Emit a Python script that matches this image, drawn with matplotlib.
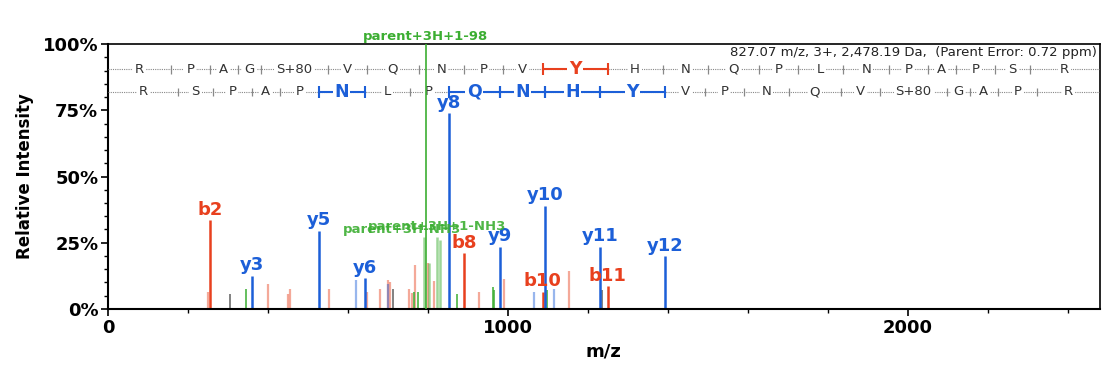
import numpy as np
import matplotlib
matplotlib.use("Agg")
import matplotlib.pyplot as plt
from matplotlib.ticker import MultipleLocator, FuncFormatter

BLUE = "#1c5fd8"
RED = "#e8401e"
GREEN = "#3cae32"
GRAY = "#555555"

# labelled fragment peaks (m/z, relative intensity %)
b_labels = ["b2", "b8", "b10", "b11"]
b_mz = [254.2, 890.4, 1086.5, 1249.6]
b_int = [33.5, 21.0, 6.5, 8.5]

y_labels = ["y3", "y5", "y6", "y8", "y9", "y10", "y11", "y12"]
y_mz = [359.2, 527.3, 641.3, 851.5, 979.5, 1093.6, 1230.6, 1393.7]
y_int = [12.5, 29.5, 11.7, 74.0, 23.5, 39.0, 23.5, 20.0]

parent_mz = 794.7
parent_int = 100.0

# unlabelled peaks
lred_mz = [251, 400, 450, 455, 552, 648, 680, 700, 705, 752, 760, 768, 800, 815, 928, 990, 1152]
lred_int = [6.4, 9.5, 5.7, 7.6, 7.6, 6.4, 7.6, 11.0, 10.0, 7.6, 6.0, 16.6, 17.5, 10.6, 6.4, 11.4, 14.4]
lblue_mz = [620, 700, 1065, 1115]
lblue_int = [11.0, 9.5, 6.4, 7.6]
gray_mz = [305, 713, 1236]
gray_int = [5.7, 7.6, 7.0]
green_mz = [345, 765, 775, 873, 962, 964, 1097]
green_int = [7.6, 6.4, 6.4, 5.7, 8.3, 7.0, 7.0]
lgreen_mz = [790, 803, 822, 830]
lgreen_int = [27.0, 17.5, 27.0, 26.0]

# sequence ladders
seq_top = ["R", "P", "A", "G", "S+80", "V", "Q", "N", "P", "V", "Y", "H",
           "N", "Q", "P", "L", "N", "P", "A", "P", "S", "R"]
b_ladder = [157.11, 254.16, 325.20, 382.22, 549.22, 648.29, 776.35, 890.39,
            987.44, 1086.51, 1249.58, 1386.64, 1500.68, 1628.74, 1725.79,
            1838.88, 1952.92, 2049.97, 2121.01, 2218.06, 2305.09]
seq_bot = ["R", "S", "P", "A", "P", "N", "L", "P", "Q", "N", "H", "Y", "V",
           "P", "N", "Q", "V", "S+80", "G", "A", "P", "R"]
y_ladder = [175.12, 262.15, 359.20, 430.24, 527.29, 641.34, 754.42, 851.47,
            979.53, 1093.57, 1230.63, 1393.70, 1492.77, 1589.82, 1703.86,
            1831.92, 1930.99, 2097.99, 2155.01, 2226.05, 2323.10]
top_hits = [10]
bot_hits = [5, 8, 9, 10, 11]
mh = 2479.2

fig = plt.figure(figsize=(11.03, 3.74), dpi=100)
ax = fig.add_axes([0.098, 0.174, 0.899, 0.708])
ax.set_xlim(0, 2480)
ax.set_ylim(0, 100)

# faint peaks first
ax.vlines(lred_mz, 0, lred_int, color=RED, alpha=0.45, lw=1.6)
ax.vlines(lblue_mz, 0, lblue_int, color=BLUE, alpha=0.45, lw=1.6)
ax.vlines(lgreen_mz, 0, lgreen_int, color=GREEN, alpha=0.5, lw=1.8)
ax.vlines(gray_mz, 0, gray_int, color=GRAY, alpha=0.8, lw=1.3)
ax.vlines(green_mz, 0, green_int, color=GREEN, alpha=0.85, lw=1.3)

ax.vlines(b_mz, 0, b_int, color=RED, lw=1.8)
ax.vlines(y_mz, 0, y_int, color=BLUE, lw=1.8)

for lab, x, h in zip(b_labels, b_mz, b_int):
    ax.annotate(lab, (x, h), xytext=(0, 1), textcoords="offset points",
                ha="center", va="bottom", color=RED, fontsize=13, fontweight="bold")
for lab, x, h in zip(y_labels, y_mz, y_int):
    ax.annotate(lab, (x, h), xytext=(0, 1), textcoords="offset points",
                ha="center", va="bottom", color=BLUE, fontsize=13, fontweight="bold")

ax.text(parent_mz, 100.5, "parent+3H+1-98", ha="center", va="bottom",
        color=GREEN, fontsize=9.5, fontweight="bold", clip_on=False)
ax.text(735, 27.5, "parent+3H-NH3", ha="center", va="bottom",
        color=GREEN, fontsize=9.5, fontweight="bold", alpha=0.9)
ax.text(822, 28.8, "parent+3H+1-NH3", ha="center", va="bottom",
        color=GREEN, fontsize=9.5, fontweight="bold", alpha=0.9)

ax.text(2472, 97, "827.07 m/z, 3+, 2,478.19 Da,  (Parent Error: 0.72 ppm)",
        ha="right", va="center", fontsize=9.5, color="#222222")


def draw_ladder(ypos, residues, ladder, hits, color):
    ax.plot([0, 2480], [ypos, ypos], color="#888888", lw=0.8, ls=(0, (1, 1)), zorder=3)
    edges = [0] + ladder + [mh]
    for i, res in enumerate(residues):
        lo, hi = edges[i], edges[i + 1]
        mid = (lo + hi) / 2
        if i in hits:
            ax.plot([lo, hi], [ypos, ypos], color=color, lw=1.5, zorder=4)
            ax.vlines([lo, hi], ypos - 2.3, ypos + 2.3, color=color, lw=1.5, zorder=4)
            ax.text(mid, ypos, res, ha="center", va="center", color=color,
                    fontsize=12.5, fontweight="bold", zorder=6,
                    bbox=dict(boxstyle="square,pad=0.08", fc="white", ec="none"))
        else:
            ax.text(mid, ypos, res, ha="center", va="center", color="#333333",
                    fontsize=9.5, zorder=5,
                    bbox=dict(boxstyle="square,pad=0.15", fc="white", ec="none"))
    plain = [x for j, x in enumerate(ladder)
             if j not in hits and j + 1 not in hits]
    ax.vlines(plain, ypos - 1.6, ypos + 1.6, color="#888888", lw=0.9, zorder=4)


draw_ladder(90.5, seq_top, b_ladder, top_hits, RED)
draw_ladder(82.0, seq_bot, y_ladder, bot_hits, BLUE)

# the parent peak runs over the sequence rows
ax.vlines(parent_mz, 0, parent_int, color=GREEN, lw=1.2, zorder=7)

ax.xaxis.set_major_locator(MultipleLocator(1000))
ax.xaxis.set_minor_locator(MultipleLocator(200))
ax.yaxis.set_major_locator(MultipleLocator(25))
ax.yaxis.set_minor_locator(MultipleLocator(5))
ax.yaxis.set_major_formatter(FuncFormatter(lambda v, p: f"{v:.0f}%"))
ax.tick_params(which="major", direction="out", length=5, width=1.2, labelsize=13, pad=2)
ax.tick_params(which="minor", direction="out", length=3, width=1.0)
for t in ax.get_xticklabels() + ax.get_yticklabels():
    t.set_fontweight("bold")
for s in ax.spines.values():
    s.set_linewidth(1.2)
ax.spines["left"].set_linewidth(1.5)
ax.spines["bottom"].set_linewidth(1.5)

ax.set_xlabel("m/z", fontsize=13, fontweight="bold", labelpad=4)
ax.set_ylabel("Relative Intensity", fontsize=12, fontweight="bold", labelpad=6)

fig.savefig("out.png", dpi=100)
